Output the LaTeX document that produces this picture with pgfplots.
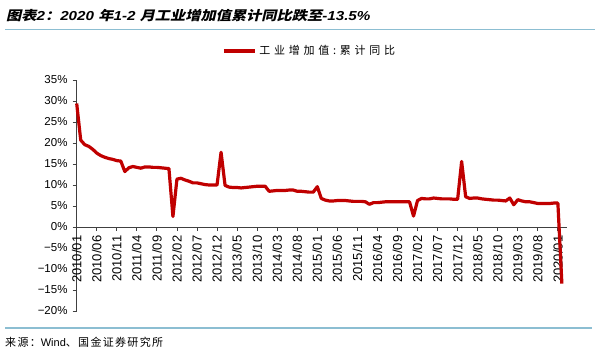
\documentclass[border=0pt]{standalone}
\usepackage{fontspec}
\usepackage{graphicx}
\usepackage{pgfplots}
\usepackage{pgfplotstable}
\pgfplotsset{compat=1.18}
\setmainfont{Liberation Sans}
\newfontfamily\ct{Noto Sans CJK SC}[FakeSlant=0.2]
\newfontfamily\cl{Noto Sans CJK SC}[LetterSpace=34]
\newfontfamily\cs{Noto Sans CJK SC}[LetterSpace=12]
\definecolor{lred}{RGB}{192,0,0}
\definecolor{rule}{RGB}{140,190,210}
\pgfplotstableread{
x y
0 29.4
1 20.7
2 19.6
3 19.2
4 18.5
5 17.6
6 17.0
7 16.6
8 16.3
9 16.1
10 15.8
11 15.7
12 13.2
13 14.1
14 14.4
15 14.2
16 14.0
17 14.3
18 14.3
19 14.2
20 14.2
21 14.1
22 14.0
23 13.9
24 2.5
25 11.4
26 11.6
27 11.2
28 10.9
29 10.5
30 10.5
31 10.3
32 10.1
33 10.0
34 10.0
35 10.0
36 17.8
37 9.9
38 9.5
39 9.4
40 9.4
41 9.3
42 9.4
43 9.5
44 9.6
45 9.7
46 9.7
47 9.7
48 8.5
49 8.6
50 8.7
51 8.7
52 8.7
53 8.8
54 8.8
55 8.5
56 8.5
57 8.4
58 8.3
59 8.3
60 9.6
61 6.8
62 6.4
63 6.2
64 6.2
65 6.3
66 6.3
67 6.3
68 6.2
69 6.1
70 6.1
71 6.1
72 6.0
73 5.4
74 5.8
75 5.8
76 5.9
77 6.0
78 6.0
79 6.0
80 6.0
81 6.0
82 6.0
83 6.0
84 2.6
85 6.3
86 6.8
87 6.7
88 6.7
89 6.9
90 6.8
91 6.7
92 6.7
93 6.7
94 6.6
95 6.6
96 15.6
97 7.2
98 6.8
99 6.9
100 6.9
101 6.7
102 6.6
103 6.5
104 6.4
105 6.4
106 6.3
107 6.2
108 6.9
109 5.3
110 6.5
111 6.2
112 6.0
113 6.0
114 5.8
115 5.6
116 5.6
117 5.6
118 5.6
119 5.7
120 5.7
121 -13.5
}\datatable
\begin{document}
\begin{tikzpicture}
\useasboundingbox (0,0) rectangle (600pt,353pt);
% title
\node[anchor=west, inner sep=0pt] at (6pt,337pt) {\scalebox{1.17}[1]{\fontsize{13}{15}\selectfont\bfseries\itshape {\ct 图表}2{\ct ：}2020 {\ct 年}1-2 {\ct 月工业增加值累计同比跌至}-13.5\%}};
\draw[rule, line width=1.6pt] (5pt,323.5pt) -- (595pt,323.5pt);
\draw[rule, line width=1.6pt] (5pt,25pt) -- (592pt,25pt);
\node[anchor=west, inner sep=0pt] at (5pt,11pt) {\fontsize{11}{13}\selectfont{\cs 来源：}Wind{\cs 、国金证券研究所}};
\begin{axis}[
  at={(76.7pt,42pt)}, anchor=south west,
  width=490pt, height=231pt, scale only axis,
  xmin=0, xmax=122.2, ymin=-20, ymax=35,
  axis x line*=middle, axis y line*=left,
  hide obscured x ticks=false,
  xtick={0,5,...,120},
  xticklabels={2010/01,2010/06,2010/11,2011/04,2011/09,2012/02,2012/07,2012/12,2013/05,2013/10,2014/03,2014/08,2015/01,2015/06,2015/11,2016/04,2016/09,2017/02,2017/07,2017/12,2018/05,2018/10,2019/03,2019/08,2020/01},
  ytick={-20,-15,...,35},
  yticklabels={−20\%,−15\%,−10\%,−5\%,0\%,5\%,10\%,15\%,20\%,25\%,30\%,35\%},
  tick align=outside, major tick length=4pt,
  x tick label style={rotate=90, anchor=east, font=\fontsize{13}{13}\selectfont, inner xsep=4.5pt, inner ysep=1.5pt},
  y tick label style={font=\fontsize{11.5}{12}\selectfont, anchor=east, inner sep=2pt, xshift=-3pt},
  axis line style={black!75, line width=0.8pt},
  tick style={black!75, line width=0.8pt},
  legend style={at={(0.2965,1.1255)}, anchor=west, draw=none, fill=none, font=\fontsize{11}{12}\selectfont, inner sep=0pt},
  legend image code/.code={\draw[lred, line width=3.2pt] (0pt,0pt) -- (31pt,0pt);},
  clip=false,
]
\addplot[lred, line width=3.2pt, line join=round, no marks] table[x=x, y=y] {\datatable};
\addlegendentry{\hspace{1pt}{\cl 工业增加值:累计同比}}
\end{axis}
\end{tikzpicture}
\end{document}
